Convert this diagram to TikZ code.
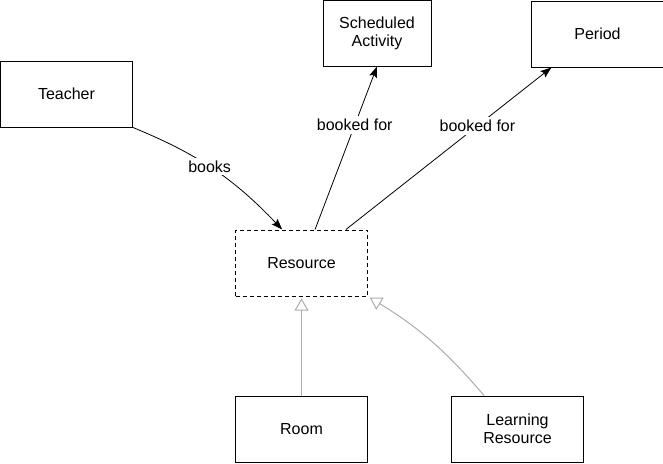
\documentclass[tikz,border=0pt]{standalone}
\usepackage{fontspec}
\setmainfont{Liberation Sans}
\usetikzlibrary{arrows.meta, positioning}

\begin{document}
\begin{tikzpicture}[x=1pt, y=1pt,
				every node/.style={font=\fontsize{16}{18}\selectfont},
				entity/.style={draw, line width=1pt, minimum width=132pt, minimum height=66pt, align=center, inner sep=2pt},
				abstract/.style={entity, dash pattern=on 4pt off 3pt},
				assoc/.style={-{Stealth[length=11pt, width=8pt, inset=2pt]}, line width=0.8pt},
				inherit/.style={-{Triangle[open, length=12pt, width=14pt, fill=white]}, gray!65, line width=1pt, shorten >=2pt},
				lbl/.style={fill=white, inner sep=3pt}
			]
			\useasboundingbox (0,0) rectangle (663,-463);

			% Nodes
			\node[abstract] (res) at (301.5,-263) {Resource};

			\node[entity, below=99pt of res] (room) {Room};

			\node[entity, right=83pt of room] (lres) {Learning\\Resource};

			\node[entity, above left=102pt and 102pt of res] (teacher) {Teacher};

			\node[entity, minimum width=108pt, above=163pt of res, xshift=75.5pt] (activity) {Scheduled\\Activity};

			\node[entity, above right=162pt and 163pt of res] (period) {Period};

			% Arrows
			\draw[assoc] (teacher.south east) to[bend left=12] node[lbl, pos=0.47] {books} (res.120);
			\draw[assoc] (res.68) -- node[lbl, pos=0.64] {booked for} (activity.south);
			\draw[assoc] (res.37) -- node[lbl, pos=0.64] {booked for} (period.216);

			% Generalisation
			\draw[inherit] (room) -- (res);
			\draw[inherit] (lres.135) to[bend right=9] (res.south east);

		\end{tikzpicture}
\end{document}
